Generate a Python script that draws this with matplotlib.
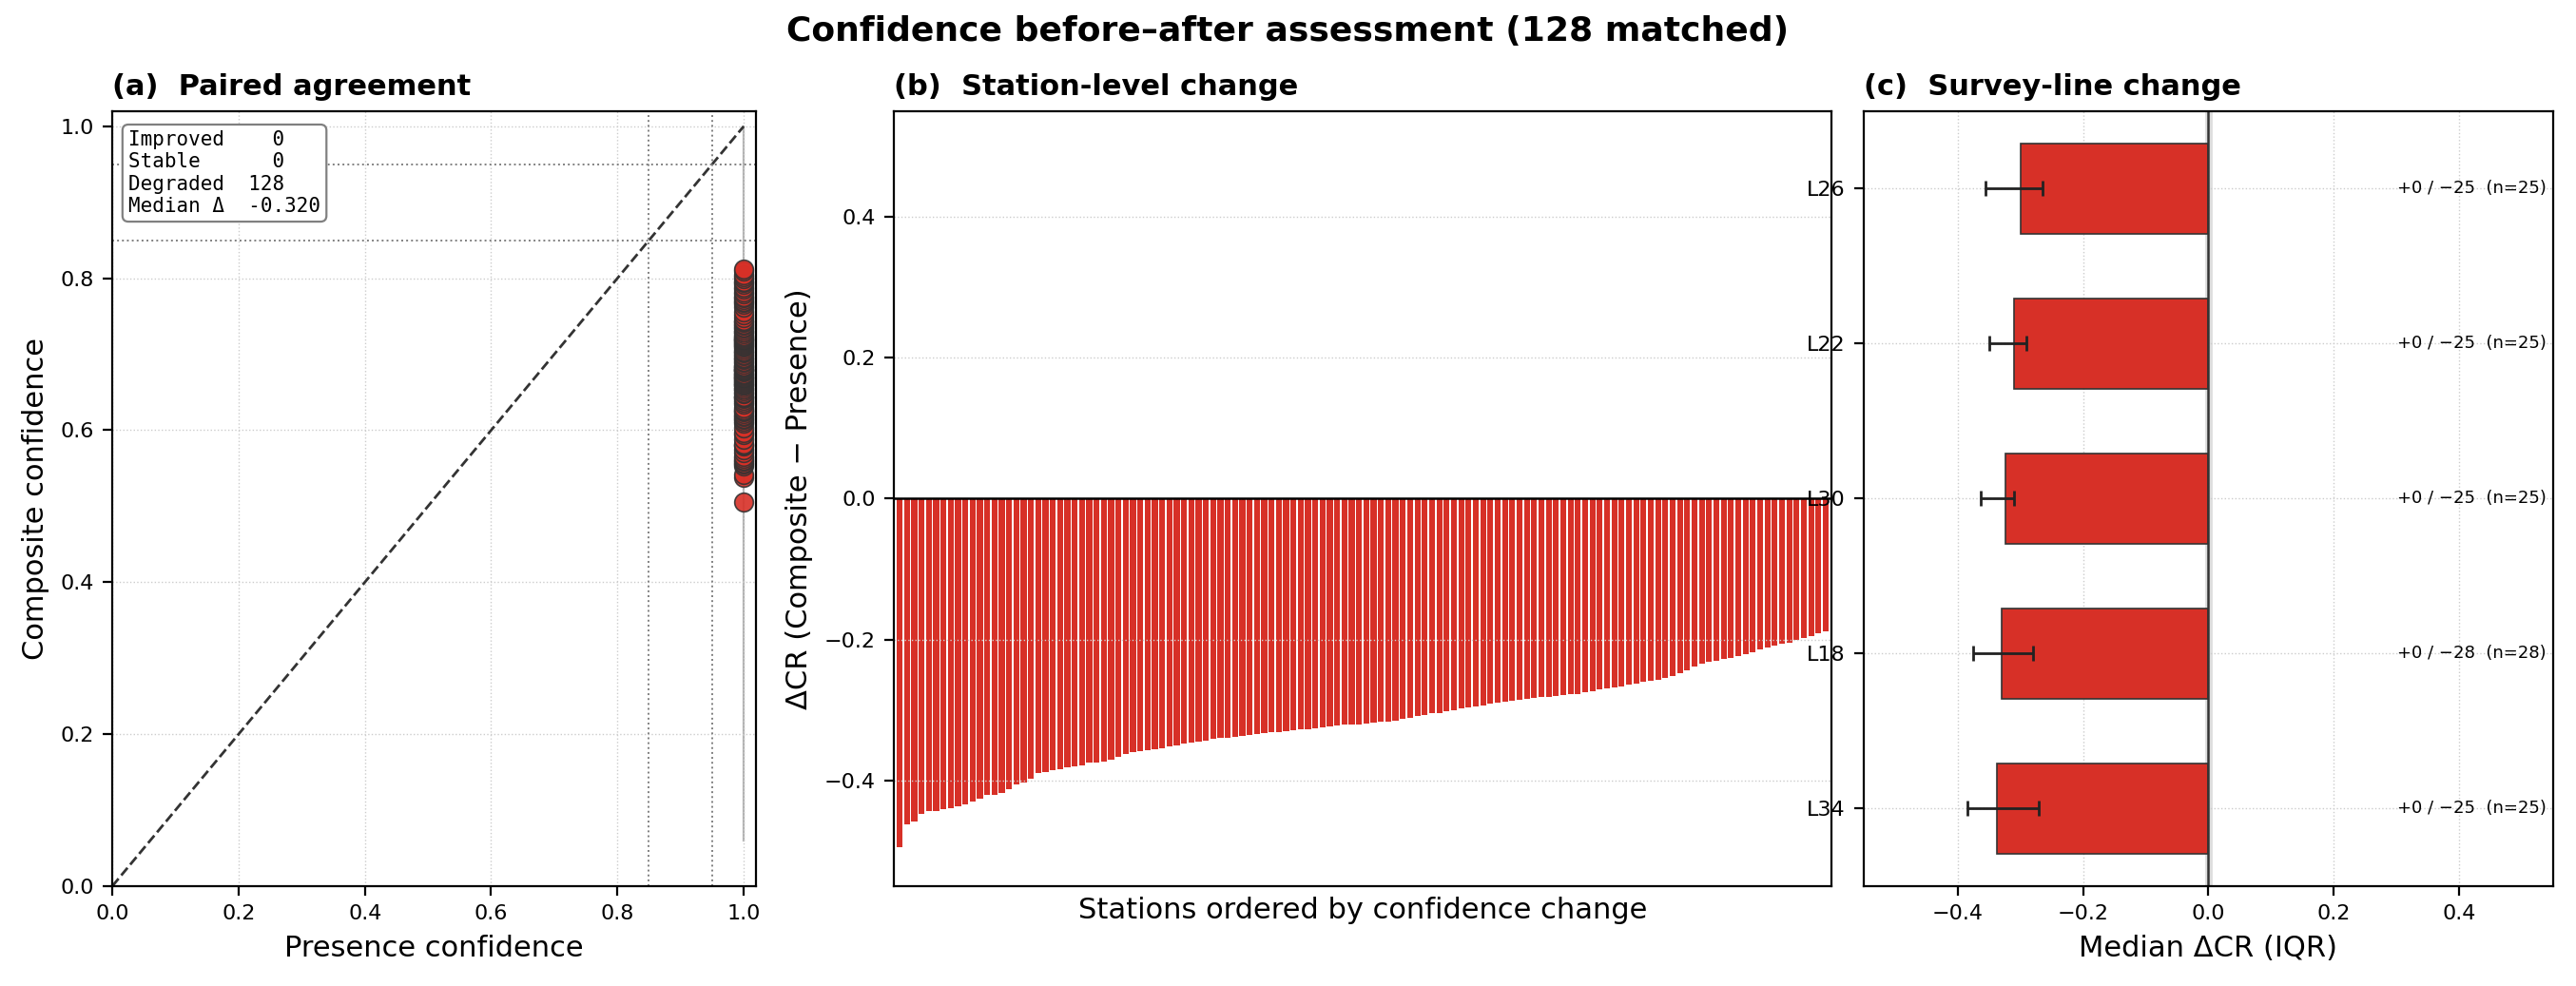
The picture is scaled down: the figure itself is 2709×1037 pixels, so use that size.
import numpy as np
import matplotlib
matplotlib.use("Agg")
import matplotlib.pyplot as plt

# station-level change (Composite - Presence), sorted ascending
delta_cr = [
    -0.495, -0.462, -0.458, -0.447, -0.444, -0.443, -0.441, -0.439, -0.437, -0.434,
    -0.430, -0.426, -0.421, -0.420, -0.418, -0.412, -0.406, -0.403, -0.397, -0.390,
    -0.388, -0.386, -0.384, -0.382, -0.380, -0.378, -0.375, -0.374, -0.373, -0.370,
    -0.366, -0.363, -0.360, -0.358, -0.357, -0.356, -0.355, -0.352, -0.350, -0.348,
    -0.346, -0.345, -0.343, -0.341, -0.340, -0.339, -0.338, -0.337, -0.335, -0.334,
    -0.333, -0.332, -0.331, -0.330, -0.329, -0.328, -0.327, -0.326, -0.325, -0.323,
    -0.322, -0.321, -0.321, -0.320, -0.319, -0.318, -0.317, -0.316, -0.315, -0.313,
    -0.311, -0.309, -0.307, -0.305, -0.304, -0.302, -0.300, -0.298, -0.297, -0.295,
    -0.293, -0.291, -0.289, -0.288, -0.287, -0.286, -0.284, -0.283, -0.282, -0.281,
    -0.280, -0.279, -0.278, -0.277, -0.275, -0.273, -0.271, -0.270, -0.268, -0.266,
    -0.264, -0.262, -0.260, -0.258, -0.257, -0.255, -0.252, -0.248, -0.244, -0.238,
    -0.234, -0.232, -0.230, -0.228, -0.226, -0.224, -0.221, -0.218, -0.214, -0.212,
    -0.208, -0.206, -0.204, -0.201, -0.198, -0.195, -0.191, -0.188,
]
presence = [1.0] * len(delta_cr)

lines = ["L26", "L22", "L30", "L18", "L34"]
line_median = [-0.300, -0.310, -0.324, -0.330, -0.338]
line_q1 = [-0.355, -0.350, -0.364, -0.375, -0.384]
line_q3 = [-0.265, -0.290, -0.310, -0.280, -0.270]
line_notes = ["+0 / \u221225  (n=25)", "+0 / \u221225  (n=25)", "+0 / \u221225  (n=25)",
              "+0 / \u221228  (n=28)", "+0 / \u221225  (n=25)"]

RED = "#d73027"

fig = plt.figure(figsize=(13.545, 5.185), dpi=200)
fig.suptitle("Confidence before\u2013after assessment (128 matched)", fontsize=13,
             fontweight="bold", y=0.985)

# (a) paired agreement
ax = fig.add_axes([0.0436, 0.1013, 0.250, 0.786])
composite = [p + d for p, d in zip(presence, delta_cr)]
ax.plot([1.0, 1.0], [0.06, 1.0], color="gray", lw=0.8, alpha=0.6, zorder=1)
ax.plot([0, 1], [0, 1], "--", color="#333333", lw=1.0)
for v in (0.85, 0.95):
    ax.axvline(v, color="gray", ls=":", lw=0.7)
    ax.axhline(v, color="gray", ls=":", lw=0.7)
ax.scatter(presence, composite, s=50, color=RED, edgecolor="#333333", lw=0.6,
           alpha=0.9, zorder=3)
ax.set_xlim(0, 1.02)
ax.set_ylim(0, 1.02)
ax.set_xlabel("Presence confidence", fontsize=11)
ax.set_ylabel("Composite confidence", fontsize=11)
ax.set_title("(a)  Paired agreement", loc="left", fontsize=11, fontweight="bold")
ax.grid(True, ls=":", lw=0.5, color="#cccccc")
ax.tick_params(labelsize=8)
n_deg = sum(1 for d in delta_cr if d < 0)
n_imp = sum(1 for d in delta_cr if d > 0)
n_st = len(delta_cr) - n_deg - n_imp
txt = (f"Improved    {n_imp}\nStable      {n_st}\nDegraded  {n_deg}\n"
       f"Median \u0394  {np.median(delta_cr):.3f}")
ax.text(0.025, 0.975, txt, transform=ax.transAxes, va="top", ha="left",
        family="DejaVu Sans Mono", fontsize=7.5,
        bbox=dict(boxstyle="round,pad=0.3", fc="white", ec="gray", lw=0.8))

# (b) station-level change
ax = fig.add_axes([0.347, 0.1013, 0.364, 0.786])
x = np.arange(len(delta_cr))
ax.bar(x, delta_cr, width=0.8, color=RED)
ax.axhline(0, color="black", lw=0.9)
ax.set_xlim(-0.8, len(delta_cr) - 0.2)
ax.set_ylim(-0.55, 0.55)
ax.set_xticks([])
ax.set_xlabel("Stations ordered by confidence change", fontsize=11)
ax.set_ylabel("\u0394CR (Composite \u2212 Presence)", fontsize=11)
ax.set_title("(b)  Station-level change", loc="left", fontsize=11, fontweight="bold")
ax.grid(True, axis="y", ls=":", lw=0.5, color="#cccccc")
ax.tick_params(labelsize=8)

# (c) survey-line change
ax = fig.add_axes([0.7235, 0.1013, 0.2676, 0.786])
y = np.arange(len(lines))[::-1]
err = [np.array(line_median) - np.array(line_q1), np.array(line_q3) - np.array(line_median)]
ax.axvspan(-0.004, 0.004, color="#dddddd", zorder=0)
ax.barh(y, line_median, height=0.58, color=RED, edgecolor="#333333", lw=0.6,
        xerr=err, error_kw=dict(ecolor="#222222", capsize=3, lw=1.0))
ax.axvline(0, color="#333333", lw=0.9)
for yi, note in zip(y, line_notes):
    ax.text(0.99, yi, note, transform=ax.get_yaxis_transform(), ha="right",
            va="center", fontsize=6.5)
ax.set_yticks(y)
ax.set_yticklabels(lines)
ax.set_ylim(-0.5, 4.5)
ax.set_xlim(-0.55, 0.55)
ax.set_xlabel("Median \u0394CR (IQR)", fontsize=11)
ax.set_title("(c)  Survey-line change", loc="left", fontsize=11, fontweight="bold")
ax.grid(True, ls=":", lw=0.5, color="#cccccc")
ax.set_axisbelow(True)
ax.tick_params(labelsize=8)

fig.savefig("out.png", dpi=200)
